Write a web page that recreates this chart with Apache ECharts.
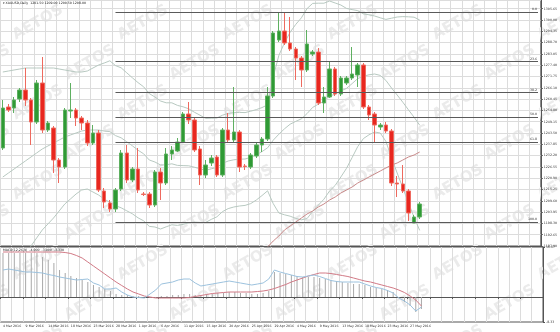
<!DOCTYPE html>
<html><head><meta charset="utf-8">
<script src="https://cdn.jsdelivr.net/npm/echarts@6/dist/echarts.min.js"></script>
<style>html,body{margin:0;padding:0;background:#fff}#c{width:560px;height:332px}</style>
</head><body><div id="c"></div>
<script>
const dates = ['4 Mar 2016','6 Mar 2016','7 Mar 2016','8 Mar 2016','9 Mar 2016','10 Mar 2016','11 Mar 2016','13 Mar 2016','14 Mar 2016','15 Mar 2016','16 Mar 2016','17 Mar 2016','18 Mar 2016','20 Mar 2016','21 Mar 2016','22 Mar 2016','23 Mar 2016','24 Mar 2016','25 Mar 2016','27 Mar 2016','28 Mar 2016','29 Mar 2016','30 Mar 2016','31 Mar 2016','1 Apr 2016','3 Apr 2016','4 Apr 2016','5 Apr 2016','6 Apr 2016','7 Apr 2016','8 Apr 2016','10 Apr 2016','11 Apr 2016','12 Apr 2016','13 Apr 2016','14 Apr 2016','15 Apr 2016','17 Apr 2016','18 Apr 2016','19 Apr 2016','20 Apr 2016','21 Apr 2016','22 Apr 2016','24 Apr 2016','25 Apr 2016','26 Apr 2016','27 Apr 2016','28 Apr 2016','29 Apr 2016','1 May 2016','2 May 2016','3 May 2016','4 May 2016','5 May 2016','6 May 2016','8 May 2016','9 May 2016','10 May 2016','11 May 2016','12 May 2016','13 May 2016','15 May 2016','16 May 2016','17 May 2016','18 May 2016','19 May 2016','20 May 2016','22 May 2016','23 May 2016','24 May 2016','25 May 2016','26 May 2016','27 May 2016','29 May 2016','30 May 2016'];
const emptySlots = 21;

const open = [1236,1256.5,1256,1260.5,1265,1260,1249,1268.5,1245,1246,
  1230,1226.5,1254.5,1255,1251,1248.5,1238.5,1243.5,1214.5,1208.5,
  1205.5,1215.5,1233.5,1220,1225.5,1213,1213,1207.5,1224,1218.5,
  1233,1234.5,1239,1253,1250,1235.5,1222.5,1228.5,1231.5,1222.5,
  1245,1240,1244,1227,1226.5,1232,1237.5,1240.5,1262,1290,
  1294.5,1288.5,1285.5,1281,1275,1283,1284,1258.5,1261.5,1275.5,
  1263,1268.5,1271,1272.5,1277.5,1256.5,1253,1246.5,1247.5,1244.5,
  1218.5,1218,1214.5,1198.5,1201.5];
const close = [1256,1255,1260,1265,1260,1249,1268.5,1245,1248.5,1230,
  1226.5,1255,1255,1251,1248.5,1238.5,1243.5,1215,1209,1205.5,
  1215,1233.5,1220,1225.5,1215,1212.75,1207.5,1224,1218.5,1233,
  1235,1239,1253,1250,1235,1222.5,1227.5,1231,1222.5,1245,
  1240,1244,1226.5,1226.75,1232.5,1237.5,1240.5,1262,1293.5,1294.5,
  1288.5,1285.5,1281,1275,1288,1284,1258.5,1261.5,1275.5,1263,
  1271,1271,1273,1277.5,1256.5,1252.5,1247.5,1247.5,1244.5,1218.5,
  1218,1214.5,1203.5,1201.5,1208];
const low = [1235,1254,1253.5,1259,1257,1237.5,1248,1243.5,1244,1223.5,
  1218.5,1225.5,1251,1247,1245,1237,1237.5,1214,1206,1204,
  1204,1214.5,1218.5,1219,1213.5,1212,1206,1206.5,1210,1217.5,
  1230,1234,1238.5,1248,1234,1217.5,1221,1227,1221.5,1221.5,
  1239,1239,1224,1225,1225.5,1231,1234,1239.5,1261,1289,
  1287.5,1284.5,1270,1266.5,1274,1282,1257.5,1253.5,1261,1262,
  1262,1267.5,1270,1266.5,1255.5,1250,1238.5,1245,1243.5,1217,
  1211.5,1213.5,1199.5,1199,1200.5];
const high = [1260,1258,1261.5,1266,1276,1261,1270,1281.5,1249.5,1247,
  1231,1256,1268.5,1256,1252,1250,1247.5,1245,1216,1210,
  1216,1235,1237.5,1226.5,1236,1214,1214,1225,1226,1236,
  1237,1241,1254,1259,1251,1237,1230,1232.5,1232.5,1246,
  1253.5,1266.5,1245,1228,1233.5,1238.5,1241.5,1266.5,1294.5,1304,
  1304,1301.5,1286.5,1282,1295,1285,1286,1266.5,1279,1276.5,
  1272,1272,1286.5,1278.5,1278.5,1257.5,1254,1248.5,1249,1245.5,
  1222,1227.5,1215.5,1202.5,1209];

const bbUpper = [1274,1274.5,1275,1275.5,1276,1276,1276,1276,1276,1276,
  1275.5,1275,1274.5,1274,1274,1274.5,1276,1277.5,1278.5,1279.6,
  1277.2,1276.1,1273.6,1271.1,1268.7,1266.6,1263.2,1261.5,1259.5,1258.6,
  1258.6,1257.3,1256.6,1255.6,1253.9,1252.4,1250.8,1250.9,1251,1252.4,
  1253.3,1253.7,1253.8,1253.7,1254.4,1255.2,1256.2,1257.6,1271.6,1282.3,
  1288.6,1293.9,1297.8,1301.1,1305.7,1308.3,1308.4,1308.4,1309.5,1308.5,
  1307.5,1305.8,1305.2,1304.7,1303.1,1302.6,1302,1301.1,1300.3,1300.9,
  1301.5,1301.7,1301.6,1301.4,1300];
const bbMiddle = [1221.5,1223.5,1225.5,1227.5,1229.5,1231.5,1233.5,1235.5,1237,1238.5,
  1240,1241.5,1242.5,1243.5,1244.5,1245,1245,1245,1244.5,1244.2,
  1242.2,1241.1,1239.1,1237.1,1234.9,1233.1,1230,1229,1227.5,1227.6,
  1228.1,1227.3,1227.2,1227.1,1226.4,1225.6,1224.8,1225.6,1226.3,1228.3,
  1229.5,1230.1,1230.4,1230.5,1231.3,1232.6,1234.2,1236.1,1239.9,1242.9,
  1245.6,1247.9,1249.3,1250.6,1253.2,1256.3,1257.9,1259.4,1262,1262.9,
  1264.5,1265.8,1268.2,1270.7,1271.9,1272.6,1273,1272.3,1269.8,1266,
  1262.5,1258.9,1255.1,1251.4,1247.4];
const bbLower = [1169,1172.5,1176,1179.5,1183,1187,1191,1195,1198,1201,
  1204.5,1208,1210.5,1213,1215,1215.5,1214,1212.5,1210.5,1208.8,
  1207.2,1206.1,1204.6,1203.1,1201.1,1199.6,1196.8,1196.5,1195.5,1196.6,
  1197.6,1197.3,1197.8,1198.6,1198.9,1198.8,1198.8,1200.3,1201.6,1204.2,
  1205.7,1206.5,1207,1207.3,1208.2,1210,1212.2,1214.6,1208.2,1203.5,
  1202.6,1201.9,1200.8,1200.1,1200.7,1204.3,1207.4,1210.4,1214.5,1217.3,
  1221.5,1225.8,1231.2,1236.7,1240.7,1242.6,1244,1243.5,1239.3,1231.1,
  1223.5,1216.1,1208.6,1201.4,1194.8];
const maLine = Array(46).fill(null).concat([1184,1186.5,1189.5,1192,1195,1197,1199,1201,1203,1204.5,
  1206.5,1208,1210,1211.5,1213.5,1215,1216.5,1218.5,1220,1221.5,
  1223,1224.5,1226,1227.5,1228.5,1230,1231.5,1232.5,1234]);

const fibNames = ['0.0','23.6','38.2','50.0','61.8','100.0'];
const fibRatios = [0,0.236,0.382,0.5,0.618,1];
const fibHigh = 1304, fibLow = 1199, fibStartBar = 20;

const macdHist = [14.67,14.67,14.67,14.67,14.67,14.67,14.67,13.33,12.33,11.33,
  9,8,7,6.33,5.67,5,4,3.33,2.67,2,
  1,0.67,0.67,0.33,0.33,0,-0.33,-0.33,0.33,0.33,
  0.67,0.67,1,1,0.67,0.67,1,1,1.33,1.33,
  1.67,1.67,1.33,1.33,1,1,1.33,2,8.33,8,
  7.67,7.33,7,6.67,6.67,6.67,6.33,6,5.67,5.33,
  5,4.67,4.33,4.33,4,3.33,3,2.67,2.33,1.67,
  -0.33,-1.67,-3,-5,-4];
const macdSignal = [15,15,15,15,15,15,15,15,15,15,
  15,14.83,14.5,13.83,13,11.67,10.33,9,7.67,6.33,
  5,3.83,2.67,1.67,1,0.33,0,-0.33,-0.33,-0.33,
  -0.33,-0.33,-0.33,-0.17,0.17,0.5,0.83,1.17,1.33,1.5,
  1.67,1.67,1.67,1.67,1.67,1.83,2,2.33,2.83,3.5,
  4.17,5,5.67,6.33,7,7.5,8,8,7.83,7.5,
  7.17,6.83,6.33,5.83,5.33,5,4.5,4,3.5,3,
  2.33,1.5,0.33,-1,-3];
const blueLine = [9,9.33,9,8.67,8.33,8.33,8.17,8,7.5,7.17,
  6.67,6.33,6,5.67,5.83,6,4.67,4,2.67,2.67,
  3,1.67,0.67,0,-0.17,-0.33,1,2.33,4.33,4.67,
  5,5.67,6,6,4.67,3.67,4,4.33,4.67,5,
  5.33,5,4.67,4.33,4,4.33,4.67,6,9,8.33,
  7.83,7.33,6.83,6.67,7,7.33,6.83,6.17,5.5,5.17,
  5,5,5,5,4.33,3.67,3.17,2.83,2.17,1.33,
  -0.33,-1.33,-2.67,-4.67,-3.33];
const macdMin = -8.33, macdMax = 16.67;

const categories = dates.concat(Array(emptySlots).fill(''));
const last = open.length - 1;
const candles = open.map((o, i) => [o, close[i], low[i], high[i]]);
const fibData = fibRatios.map((r, i) => {
  const v = fibHigh - (fibHigh - fibLow) * r;
  return [{coord: [fibStartBar, v], name: fibNames[i]}, {coord: [categories.length - 1, v]}];
});

const FONT = 'DejaVu Sans';
const GRID_C = '#dcdcdc';
const AX_C = '#555';
const SMALL = 3.2;

const watermarks = [];
for (let r = -1; r < 9; r++) {
  for (let c = -1; c < 6; c++) {
    watermarks.push({
      type: 'text', silent: true, z: 0,
      x: c * 105 + (r % 2 ? 52 : 0) + 10, y: r * 40 + 30,
      rotation: Math.PI / 6,
      style: {text: 'AETOS', fill: '#ebebeb', font: 'bold 15px ' + FONT}
    });
  }
}

const chart = echarts.init(document.getElementById('c'), null, {renderer: 'canvas'});
chart.setOption({
  animation: false,
  backgroundColor: '#fff',
  textStyle: {fontFamily: FONT},
  graphic: watermarks.concat([
    {type: 'text', x: 3, y: 2, z: 10, style: {text: '\u25BE XAUUSD,Daily  ' + open[last].toFixed(2) + ' ' + high[last].toFixed(2) + ' ' + low[last].toFixed(2) + ' ' + close[last].toFixed(2), fill: '#222', font: SMALL + 'px ' + FONT}},
    {type: 'text', x: 3, y: 249, z: 10, style: {text: 'MACD(12,26,9)  ' + macdHist[last].toFixed(3) + '  ' + macdSignal[last].toFixed(3) + '  ' + blueLine[last].toFixed(3), fill: '#222', font: SMALL + 'px ' + FONT}}
  ]),
  grid: [
    {left: 0, top: 0, width: 543, height: 246, show: true, borderColor: AX_C, borderWidth: 1, backgroundColor: 'transparent'},
    {left: 0, top: 247, width: 543, height: 75, show: true, borderColor: AX_C, borderWidth: 1, backgroundColor: 'transparent'}
  ],
  xAxis: [
    {type: 'category', gridIndex: 0, data: categories, boundaryGap: true,
     axisLine: {show: true, lineStyle: {color: AX_C, width: 1}}, axisTick: {show: false}, axisLabel: {show: false},
     splitLine: {show: true, interval: 1, lineStyle: {color: GRID_C, width: 1}}},
    {type: 'category', gridIndex: 1, data: categories, boundaryGap: true,
     axisLine: {show: true, lineStyle: {color: AX_C, width: 1}},
     axisTick: {show: true, interval: 3, length: 2, lineStyle: {color: AX_C}},
     axisLabel: {show: true, interval: 3, fontSize: SMALL, color: '#333', align: 'left', margin: 3, fontFamily: FONT, hideOverlap: false},
     splitLine: {show: true, interval: 1, lineStyle: {color: GRID_C, width: 1}}}
  ],
  yAxis: [
    {type: 'value', gridIndex: 0, position: 'right', min: 1187, max: 1310, interval: 5.65, scale: true,
     axisLine: {show: true, lineStyle: {color: AX_C}}, axisTick: {show: true, length: 2, lineStyle: {color: AX_C}},
     axisLabel: {show: true, fontSize: SMALL, color: '#333', margin: 3, showMaxLabel: false, fontFamily: FONT, formatter: v => v.toFixed(2)},
     splitLine: {show: true, lineStyle: {color: GRID_C, width: 1}}},
    {type: 'value', gridIndex: 1, position: 'right', min: macdMin, max: macdMax, interval: macdMax - macdMin,
     axisLine: {show: true, lineStyle: {color: AX_C}}, axisTick: {show: true, length: 2, lineStyle: {color: AX_C}},
     axisLabel: {show: true, fontSize: SMALL, color: '#333', margin: 3, fontFamily: FONT,
       verticalAlign: 'middle', formatter: v => v.toFixed(2)},
     splitLine: {show: false}}
  ],
  series: [
    {type: 'line', name: 'BB upper', xAxisIndex: 0, yAxisIndex: 0, data: bbUpper, showSymbol: false, z: 3,
     lineStyle: {color: '#b8c9c1', width: 1}},
    {type: 'line', name: 'BB middle', xAxisIndex: 0, yAxisIndex: 0, data: bbMiddle, showSymbol: false, z: 3,
     lineStyle: {color: '#b8c9c1', width: 1}},
    {type: 'line', name: 'BB lower', xAxisIndex: 0, yAxisIndex: 0, data: bbLower, showSymbol: false, z: 3,
     lineStyle: {color: '#b8c9c1', width: 1}},
    {type: 'line', name: 'MA', xAxisIndex: 0, yAxisIndex: 0, data: maLine, showSymbol: false, z: 3, connectNulls: false,
     lineStyle: {color: '#c98a8a', width: 1}},
    {type: 'candlestick', name: 'XAUUSD', xAxisIndex: 0, yAxisIndex: 0, data: candles, barWidth: 4, z: 4,
     itemStyle: {color: '#2f9a35', color0: '#e8271f', borderColor: '#5fb061', borderColor0: '#ee6a5f', borderWidth: 1},
     markLine: {silent: true, symbol: ['none', 'none'], animation: false,
       lineStyle: {color: '#5a5a5a', width: 1, type: 'solid'},
       label: {show: true, position: 'insideEndTop', formatter: '{b}', fontSize: SMALL, color: '#333', distance: 1, fontFamily: FONT},
       data: fibData.concat([[
         {coord: [last, close[last]], name: close[last].toFixed(2), lineStyle: {opacity: 0},
          label: {position: 'end', formatter: '{b}', backgroundColor: '#000', color: '#fff', fontSize: SMALL, padding: [1, 1], distance: 3}},
         {coord: [categories.length - 1, close[last]]}
       ]])}},
    {type: 'bar', name: 'MACD', xAxisIndex: 1, yAxisIndex: 1, data: macdHist, barWidth: 1, z: 3,
     itemStyle: {color: '#a8a8a8'}},
    {type: 'line', name: 'Signal', xAxisIndex: 1, yAxisIndex: 1, data: macdSignal, showSymbol: false, z: 4,
     lineStyle: {color: '#d27a86', width: 1}},
    {type: 'line', name: 'Blue', xAxisIndex: 1, yAxisIndex: 1, data: blueLine, showSymbol: false, z: 4,
     lineStyle: {color: '#9cc2de', width: 1}}
  ]
});
</script></body></html>
